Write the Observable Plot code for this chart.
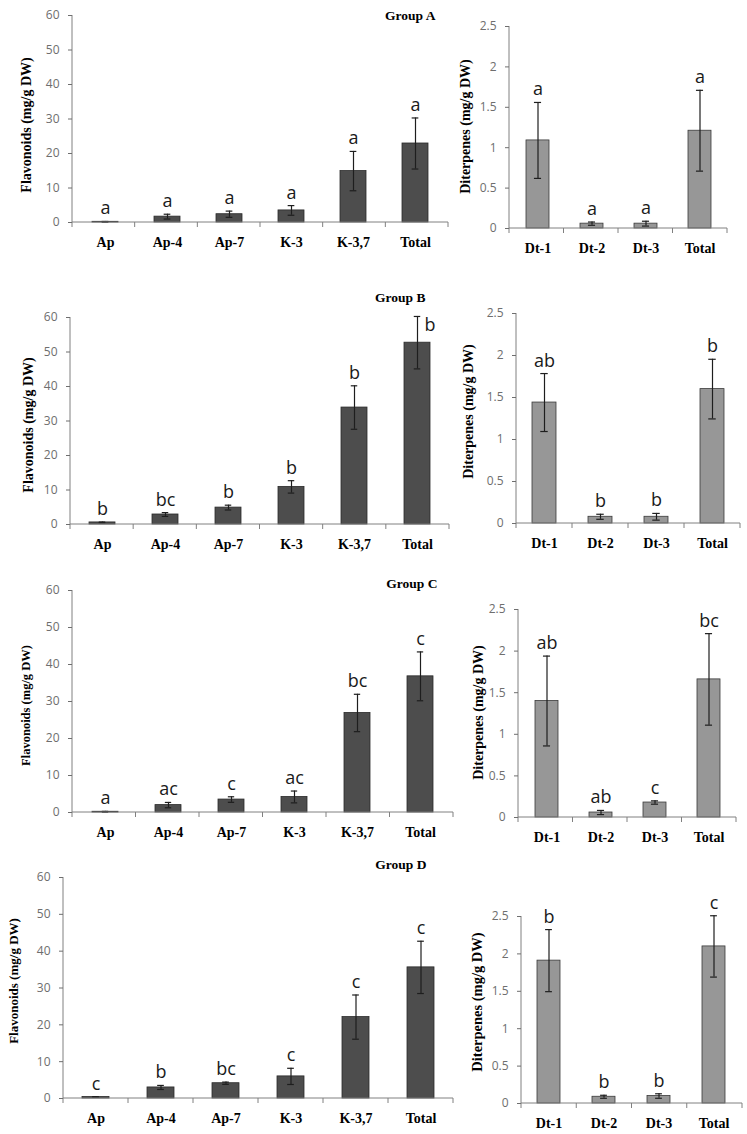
<!DOCTYPE html>
<html><head><meta charset="utf-8">
<script src="https://cdn.jsdelivr.net/npm/d3@7"></script>
<script src="https://cdn.jsdelivr.net/npm/@observablehq/plot@0.6"></script>
<style>
body{margin:0;background:#fff;}
#root{position:relative;width:747px;height:1134px;overflow:hidden;}
.panel{position:absolute;}
</style></head><body><div id="root"></div>
<script>
// ---------- data ----------
const flavCats = ["Ap", "Ap-4", "Ap-7", "K-3", "K-3,7", "Total"];
const ditCats = ["Dt-1", "Dt-2", "Dt-3", "Total"];
const groups = ["Group A", "Group B", "Group C", "Group D"];
const flavLabel = "Flavonoids (mg/g DW)";
const ditLabel = "Diterpenes (mg/g DW)";
const flavTicks = [0, 10, 20, 30, 40, 50, 60];
const ditTicks = [0, 0.5, 1, 1.5, 2, 2.5];

const flavA = [0.2, 1.7, 2.4, 3.5, 14.9, 22.9];
const flavAErr = [0.1, 0.7, 0.9, 1.4, 5.7, 7.4];
const flavALetters = ["a", "a", "a", "a", "a", "a"];
const ditA = [1.09, 0.06, 0.06, 1.21];
const ditAErr = [0.47, 0.02, 0.03, 0.5];
const ditALetters = ["a", "a", "a", "a"];

const flavB = [0.6, 2.9, 4.9, 10.9, 33.9, 52.7];
const flavBErr = [0.1, 0.55, 0.7, 1.8, 6.3, 7.6];
const flavBLetters = ["b", "bc", "b", "b", "b", "b"];
const ditB = [1.44, 0.08, 0.08, 1.60];
const ditBErr = [0.345, 0.03, 0.04, 0.355];
const ditBLetters = ["ab", "b", "b", "b"];

const flavC = [0.2, 2.0, 3.5, 4.2, 26.9, 36.8];
const flavCErr = [0.1, 0.72, 0.75, 1.6, 5.05, 6.6];
const flavCLetters = ["a", "ac", "c", "ac", "bc", "c"];
const ditC = [1.40, 0.06, 0.18, 1.66];
const ditCErr = [0.54, 0.025, 0.02, 0.55];
const ditCLetters = ["ab", "ab", "c", "bc"];

const flavD = [0.4, 3.0, 4.15, 6.0, 22.1, 35.6];
const flavDErr = [0.1, 0.55, 0.3, 2.2, 6.0, 7.1];
const flavDLetters = ["c", "b", "bc", "c", "c", "c"];
const ditD = [1.91, 0.09, 0.10, 2.10];
const ditDErr = [0.415, 0.02, 0.03, 0.41];
const ditDLetters = ["b", "b", "b", "c"];

// ---------- layout ----------
const LEFT_W = 456, RIGHT_X = 456, RIGHT_W = 747 - 456;
const panels = [
  {cats: flavCats, v: flavA, e: flavAErr, l: flavALetters, kind: "flav", group: groups[0],
   frame: {L: 72, R: 448, T: 15, B: 222}, lab: {dx: -46, dy: 6, size: 14}, grp: {dx: -13, dy: 0}},
  {cats: ditCats, v: ditA, e: ditAErr, l: ditALetters, kind: "dit",
   frame: {L: 509, R: 727, T: 26, B: 228}, lab: {dx: -44, dy: -1, size: 14}},
  {cats: flavCats, v: flavB, e: flavBErr, l: flavBLetters, kind: "flav", group: groups[1], side: "Total",
   frame: {L: 70, R: 449, T: 317, B: 524}, lab: {dx: -42, dy: 4, size: 14}, grp: {dx: -24, dy: -20}},
  {cats: ditCats, v: ditB, e: ditBErr, l: ditBLetters, kind: "dit",
   frame: {L: 516, R: 740, T: 313, B: 523}, lab: {dx: -48, dy: -7, size: 14}},
  {cats: flavCats, v: flavC, e: flavCErr, l: flavCLetters, kind: "flav", group: groups[2],
   frame: {L: 72, R: 453, T: 590, B: 812}, lab: {dx: -47, dy: 4, size: 12.5}, grp: {dx: -16, dy: -7}},
  {cats: ditCats, v: ditC, e: ditCErr, l: ditCLetters, kind: "dit",
   frame: {L: 518, R: 736, T: 609, B: 817}, lab: {dx: -40, dy: -1, size: 14}},
  {cats: flavCats, v: flavD, e: flavDErr, l: flavDLetters, kind: "flav", group: groups[3],
   frame: {L: 63, R: 453, T: 877, B: 1098}, lab: {dx: -50, dy: -7, size: 13}, grp: {dx: -27, dy: -13}},
  {cats: ditCats, v: ditD, e: ditDErr, l: ditDLetters, kind: "dit",
   frame: {L: 521, R: 742, T: 916, B: 1103}, lab: {dx: -44, dy: -8, size: 14.5}},
];

const SERIF = "'Liberation Serif', 'Times New Roman', serif";
const SANS = "'Open Sans', 'Noto Sans', sans-serif";

function axisLines(n) {
  return function (...args) {
    const dims = args.find(a => a && typeof a === "object" && typeof a.marginLeft === "number" && typeof a.width === "number");
    const L = dims.marginLeft, R = dims.width - dims.marginRight;
    const T = dims.marginTop, B = dims.height - dims.marginBottom;
    const g = d3.create("svg:g").attr("stroke", "#808080").attr("stroke-width", 1).attr("fill", "none");
    g.append("line").attr("x1", L).attr("x2", L).attr("y1", T).attr("y2", B);
    g.append("line").attr("x1", L).attr("x2", R).attr("y1", B).attr("y2", B);
    for (let i = 0; i <= n; i++) {
      const x = L + i * (R - L) / n;
      g.append("line").attr("x1", x).attr("x2", x).attr("y1", B).attr("y2", B + 5);
    }
    return g.node();
  };
}

function makePanel(p) {
  const isFlav = p.kind === "flav";
  const left = isFlav ? 0 : RIGHT_X;
  const width = isFlav ? LEFT_W : RIGHT_W;
  const yMax = isFlav ? 60 : 2.5;
  const ticks = isFlav ? flavTicks : ditTicks;
  const fill = isFlav ? "#4d4d4d" : "#979797";
  const stroke = isFlav ? "#2a2a2a" : "#3a3a3a";
  const f = p.frame;
  const top = Math.max(0, f.T - 32);
  const marginTop = f.T - top;
  const marginBottom = 40;
  const height = f.B - top + marginBottom;
  const marginLeft = f.L - left;
  const marginRight = left + width - f.R;
  const n = p.cats.length;
  const step = (f.R - f.L) / n;
  const bw = step * 0.42;
  const capInset = Math.max(0, (bw - 7) / 2);
  const data = p.cats.map((c, i) => ({cat: c, v: p.v[i], lo: p.v[i] - p.e[i], hi: p.v[i] + p.e[i], letter: p.l[i]}));
  const above = data.filter(d => d.cat !== p.side);
  const beside = data.filter(d => d.cat === p.side);

  const marks = [
    Plot.barY(data, {x: "cat", y: "v", fill, stroke, strokeWidth: 0.8}),
    Plot.ruleX(data, {x: "cat", y1: "lo", y2: "hi", stroke: "#1e1e1e", strokeWidth: 1.2}),
    Plot.tickY(data, {x: "cat", y: "hi", stroke: "#1e1e1e", strokeWidth: 1.2, insetLeft: capInset, insetRight: capInset}),
    Plot.tickY(data, {x: "cat", y: "lo", stroke: "#1e1e1e", strokeWidth: 1.2, insetLeft: capInset, insetRight: capInset}),
    axisLines(n),
    Plot.axisY({ticks, tickSize: 4, tickPadding: 9, tickFormat: d => String(d), fontSize: 12, fontFamily: SANS, color: "#6e6e6e", label: null}),
    Plot.axisX({tickSize: 0, tickPadding: 15, fontSize: 14, fontFamily: SERIF, fontWeight: "bold", color: "#000", label: null}),
    Plot.text(above, {x: "cat", y: "hi", text: "letter", dy: -7, lineAnchor: "bottom", fontSize: 18, fontFamily: SANS, fill: "#1a1a1a"}),
    Plot.text(beside, {x: "cat", y: "hi", text: "letter", dx: 7, dy: 2, textAnchor: "start", lineAnchor: "top", fontSize: 18, fontFamily: SANS, fill: "#1a1a1a"}),
    Plot.text([isFlav ? flavLabel : ditLabel], {text: d => d, frameAnchor: "left", textAnchor: "middle", lineAnchor: "middle",
      rotate: -90, dx: p.lab.dx, dy: p.lab.dy,
      fontSize: p.lab.size, fontWeight: "bold", fontFamily: SERIF, fill: "#000"}),
  ];
  if (p.group) {
    marks.push(Plot.text([p.group], {text: d => d, frameAnchor: "top-right", textAnchor: "end", lineAnchor: "middle", dx: p.grp.dx, dy: p.grp.dy,
      fontSize: 13.5, fontWeight: "bold", fontFamily: SERIF, fill: "#000"}));
  }

  const svg = Plot.plot({
    width, height, marginLeft, marginRight, marginTop, marginBottom,
    style: {background: "transparent", overflow: "visible", fontFamily: SANS},
    x: {domain: p.cats, paddingInner: 0.58, paddingOuter: 0.29, label: null},
    y: {domain: [0, yMax], label: null},
    marks
  });
  const div = document.createElement("div");
  div.className = "panel";
  div.style.left = left + "px";
  div.style.top = top + "px";
  div.appendChild(svg);
  document.getElementById("root").appendChild(div);
}

panels.forEach(makePanel);
</script>
</body></html>
